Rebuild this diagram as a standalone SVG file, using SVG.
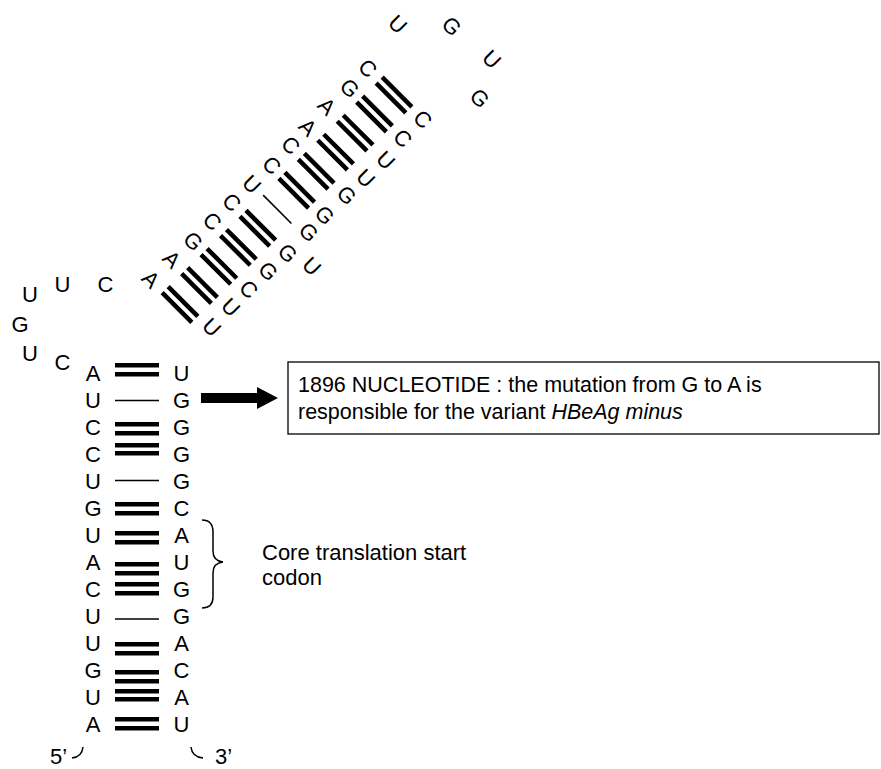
<svg xmlns="http://www.w3.org/2000/svg" xmlns:xlink="http://www.w3.org/1999/xlink" width="881" height="769" viewBox="0 0 881 769">
<style>
.nt{font-family:"Liberation Sans",Arial,sans-serif;font-size:22px;text-anchor:middle;fill:#000}
.lbl{font-family:"Liberation Sans",Arial,sans-serif;font-size:21.5px;fill:#000}
.bar{fill:#000}
.thin{stroke:#000;stroke-width:1.6}
.hook{fill:none;stroke:#000;stroke-width:1.5}
</style>
<defs>
<g id="dbl"><rect class="bar" x="-21" y="-6.5" width="42" height="4.5"/><rect class="bar" x="-21" y="2" width="42" height="4.5"/></g>
<line id="wob" class="thin" x1="-20" y1="0" x2="20" y2="0"/>
</defs>
<rect width="881" height="769" fill="#fff"/>

<g id="lower-stem">
<g class="nt">
<text x="93" y="381">A</text><text x="93" y="408">U</text><text x="93" y="435">C</text><text x="93" y="462">C</text><text x="93" y="489">U</text><text x="93" y="516">G</text><text x="93" y="543">U</text><text x="93" y="570">A</text><text x="93" y="597">C</text><text x="93" y="624">U</text><text x="93" y="651">U</text><text x="93" y="678">G</text><text x="93" y="705">U</text><text x="93" y="732">A</text>
<text x="181.5" y="381">U</text><text x="181.5" y="408">G</text><text x="181.5" y="435">G</text><text x="181.5" y="462">G</text><text x="181.5" y="489">G</text><text x="181.5" y="516">C</text><text x="181.5" y="543">A</text><text x="181.5" y="570">U</text><text x="181.5" y="597">G</text><text x="181.5" y="624">G</text><text x="181.5" y="651">A</text><text x="181.5" y="678">C</text><text x="181.5" y="705">A</text><text x="181.5" y="732">U</text>
</g>
<g class="bar">
<rect x="115" y="363" width="44" height="4.5"/><rect x="115" y="372" width="44" height="4.5"/>
<rect x="115" y="422" width="44" height="4.5"/><rect x="115" y="431" width="44" height="4.5"/>
<rect x="115" y="443" width="44" height="4.5"/><rect x="115" y="451" width="44" height="4.5"/>
<rect x="115" y="502" width="44" height="4.5"/><rect x="115" y="511" width="44" height="4.5"/>
<rect x="115" y="531" width="44" height="4.5"/><rect x="115" y="540" width="44" height="4.5"/>
<rect x="115" y="562" width="44" height="4.5"/><rect x="115" y="571" width="44" height="4.5"/>
<rect x="115" y="582" width="44" height="4.5"/><rect x="115" y="591" width="44" height="4.5"/>
<rect x="115" y="642" width="44" height="4.5"/><rect x="115" y="651" width="44" height="4.5"/>
<rect x="115" y="670" width="44" height="4.5"/><rect x="115" y="679" width="44" height="4.5"/>
<rect x="115" y="689" width="44" height="4.5"/><rect x="115" y="697" width="44" height="4.5"/>
<rect x="115" y="717" width="44" height="4.5"/><rect x="115" y="726" width="44" height="4.5"/>
</g>
<line class="thin" x1="115" y1="400.5" x2="159" y2="400.5"/>
<line class="thin" x1="115" y1="480.5" x2="159" y2="480.5"/>
<line class="thin" x1="115" y1="619" x2="159" y2="619"/>
</g>

<g id="internal-loop" class="nt">
<text x="62.5" y="369.5">C</text>
<text x="30" y="360.5">U</text>
<text x="20" y="331.5">G</text>
<text x="30" y="301.5">U</text>
<text x="62.5" y="291.5">U</text>
<text x="105.5" y="291.5">C</text>
</g>

<g id="upper-stem">
<g class="nt">
<text transform="translate(151,279) rotate(45)" y="8">A</text>
<text transform="translate(172,259) rotate(45)" y="8">A</text>
<text transform="translate(193.5,241) rotate(45)" y="8">G</text>
<text transform="translate(212.5,221) rotate(45)" y="8">C</text>
<text transform="translate(232,202) rotate(45)" y="8">C</text>
<text transform="translate(252,184) rotate(45)" y="8">U</text>
<text transform="translate(272,165) rotate(45)" y="8">C</text>
<text transform="translate(291,145) rotate(45)" y="8">C</text>
<text transform="translate(308,127) rotate(45)" y="8">A</text>
<text transform="translate(327,106) rotate(45)" y="8">A</text>
<text transform="translate(350,88) rotate(45)" y="8">G</text>
<text transform="translate(368,68) rotate(45)" y="8">C</text>
<text transform="translate(212,327) rotate(45)" y="8">U</text>
<text transform="translate(231,307) rotate(45)" y="8">U</text>
<text transform="translate(249,289) rotate(45)" y="8">C</text>
<text transform="translate(268.5,271) rotate(45)" y="8">G</text>
<text transform="translate(288,253) rotate(45)" y="8">G</text>
<text transform="translate(312,266) rotate(45)" y="8">U</text>
<text transform="translate(309,232) rotate(45)" y="8">G</text>
<text transform="translate(325,215) rotate(45)" y="8">G</text>
<text transform="translate(347,195) rotate(45)" y="8">G</text>
<text transform="translate(366,178) rotate(45)" y="8">U</text>
<text transform="translate(386,160) rotate(45)" y="8">U</text>
<text transform="translate(403,138) rotate(45)" y="8">C</text>
<text transform="translate(423,119) rotate(45)" y="8">C</text>
</g>
<use xlink:href="#dbl" transform="translate(180,304.5) rotate(45)"/>
<use xlink:href="#dbl" transform="translate(199.5,285.5) rotate(45)"/>
<use xlink:href="#dbl" transform="translate(218.9,266.4) rotate(45)"/>
<use xlink:href="#dbl" transform="translate(238.4,247.4) rotate(45)"/>
<use xlink:href="#dbl" transform="translate(257.8,228.3) rotate(45)"/>
<use xlink:href="#wob" transform="translate(277.3,209.3) rotate(45)"/>
<use xlink:href="#dbl" transform="translate(296.7,190.2) rotate(45)"/>
<use xlink:href="#dbl" transform="translate(316.2,171.2) rotate(45)"/>
<use xlink:href="#dbl" transform="translate(335.6,152.1) rotate(45)"/>
<use xlink:href="#dbl" transform="translate(355.1,133.1) rotate(45)"/>
<use xlink:href="#dbl" transform="translate(374.5,114) rotate(45)"/>
<use xlink:href="#dbl" transform="translate(394,95) rotate(45)"/>
</g>

<g id="apical-loop" class="nt">
<text transform="translate(398,24) rotate(45)" y="8">U</text>
<text transform="translate(452,26) rotate(45)" y="8">G</text>
<text transform="translate(492,59) rotate(45)" y="8">U</text>
<text transform="translate(480,98) rotate(45)" y="8">G</text>
</g>

<g id="ends">
<text class="nt" x="50" y="764" style="text-anchor:start">5’</text>
<text class="nt" x="215" y="764" style="text-anchor:start">3’</text>
</g>

<g id="annotation-box">
<rect x="288" y="362" width="591" height="72" fill="#fff" stroke="#000" stroke-width="1.3"/>
<text class="lbl" x="298" y="392">1896 NUCLEOTIDE : the mutation from G to A is</text>
<text class="lbl" x="298" y="419">responsible for the variant <tspan font-style="italic">HBeAg minus</tspan></text>
</g>

<g id="codon-label">
<text class="lbl" x="262" y="560" style="font-size:22px">Core translation start</text>
<text class="lbl" x="262" y="585" style="font-size:22px">codon</text>
</g>

<g id="connectors">
<path d="M201,393 H257 V387 L278,398 L257,409 V403 H201 Z" fill="#000"/>
<path class="hook" d="M202,520 Q213,520 213,532 V551 Q213,561 223,562 Q213,563 213,573 V597 Q213,608 202,608"/>
<path class="hook" d="M72,758 Q82,757 83,747"/>
<path class="hook" d="M191,747 Q192,757 203,758"/>
</g>
</svg>
